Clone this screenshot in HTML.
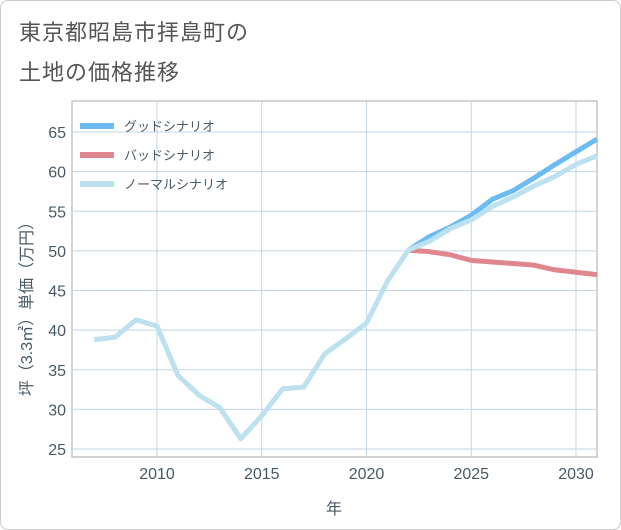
<!DOCTYPE html>
<html><head><meta charset="utf-8"><style>
body{margin:0;background:#fff;font-family:"Liberation Sans","Noto Sans CJK JP",sans-serif;}
#wrap{position:relative;width:619px;height:528px;border:1px solid #ccc;border-radius:8px;overflow:hidden;background:#fff;}
.title{position:absolute;left:18px;font-size:22px;color:#555;letter-spacing:1px;}
</style></head><body>
<div id="wrap">
<div class="title" style="top:14px">東京都昭島市拝島町の</div>
<div class="title" style="top:54px">土地の価格推移</div>
<svg id="chart" width="621" height="530" style="position:absolute;left:-1px;top:-1px"></svg>
</div>
<script>
const normalYears=[2007,2008,2009,2010,2011,2012,2013,2014,2015,2016,2017,2018,2019,2020,2021,2022,2023,2024,2025,2026,2027,2028,2029,2030,2031];
const normalValues=[38.8,39.1,41.3,40.5,34.3,31.8,30.2,26.3,29.2,32.6,32.8,37.0,38.9,40.9,46.2,50.1,51.2,52.8,53.9,55.6,56.8,58.2,59.4,60.9,62.0];
const futureYears=[2022,2023,2024,2025,2026,2027,2028,2029,2030,2031];
const goodValues=[50.1,51.8,53.0,54.5,56.5,57.6,59.2,60.9,62.5,64.1];
const badValues=[50.1,49.9,49.5,48.8,48.6,48.4,48.2,47.6,47.3,47.0];
const xTicks=[2010,2015,2020,2025,2030];
const yTicks=[25,30,35,40,45,50,55,60,65];
const NS="http://www.w3.org/2000/svg";
const svg=document.getElementById('chart');
const L=72,R=597,T=101,B=457;
const txt='#4a5866';
const x=y=>157+(y-2010)*(576-157)/20;
const yy=v=>132+(65-v)*(449-132)/40;
function mk(t,a){const e=document.createElementNS(NS,t);for(const k in a)e.setAttribute(k,a[k]);svg.appendChild(e);return e;}
const bg=mk('rect',{x:L,y:T,width:R-L,height:B-T,fill:'#fff',stroke:'#aaa'});


xTicks.forEach(v=>{const g=mk('line',{x1:x(v),x2:x(v),y1:T,y2:B,stroke:'#c5d5e3','stroke-width':1});


const t=mk('text',{x:x(v),y:B+22,'text-anchor':'middle','font-size':16,fill:txt});t.textContent=v;

});
yTicks.forEach(v=>{const g=mk('line',{x1:L,x2:R,y1:yy(v),y2:yy(v),stroke:'#c5d5e3'});


const t=mk('text',{x:L-6,y:yy(v)+6,'text-anchor':'end','font-size':16,fill:txt});t.textContent=v;

});
function line(xs,vs,c,name){const p=mk('polyline',{points:xs.map((a,i)=>x(a)+','+yy(vs[i])).join(' '),fill:'none',stroke:c,'stroke-width':5,'stroke-linejoin':'round'});

}
line(futureYears,badValues,'#e0868e','bad-scenario-line');
line(futureYears,goodValues,'#6bbcf2','good-scenario-line');
line(normalYears,normalValues,'#bde1ee','normal-scenario-line');
const xt=mk('text',{x:334,y:514,'text-anchor':'middle','font-size':16,fill:txt});xt.textContent='年';


const yt=mk('text',{x:0,y:0,'text-anchor':'middle','font-size':16,fill:txt,transform:'translate(32,305) rotate(-90)'});yt.textContent='坪（3.3㎡）単価（万円）';


[['グッドシナリオ','#6bbcf2',126],['バッドシナリオ','#e0868e',155],['ノーマルシナリオ','#bde1ee',184]].forEach(([n,c,ly])=>{
const l=mk('line',{x1:80,x2:114,y1:ly,y2:ly,stroke:c,'stroke-width':6});


const t=mk('text',{x:124,y:ly+5,'font-size':13,fill:txt});t.textContent=n;

});
</script>
</body></html>
